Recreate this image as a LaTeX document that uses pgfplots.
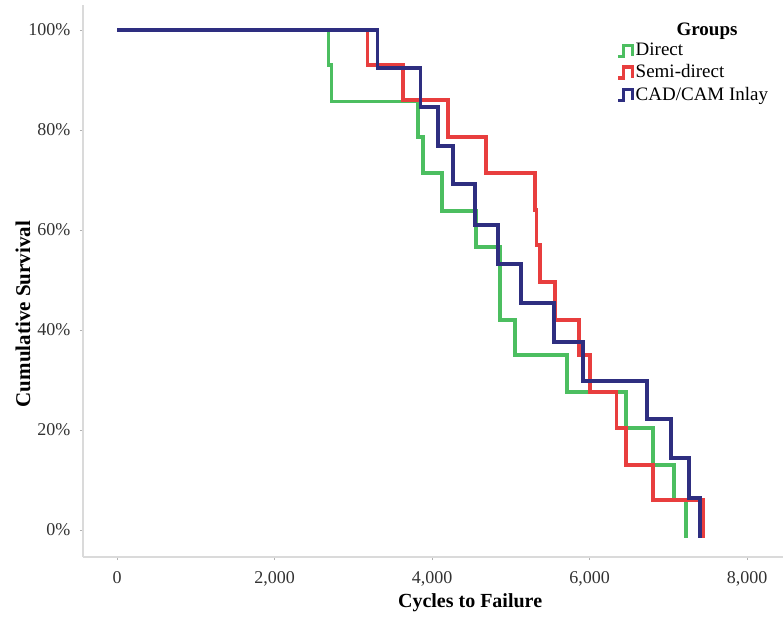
\documentclass[border=0pt]{standalone}
\usepackage{pgfplots}
\pgfplotsset{compat=1.18}
\usepackage{fontspec}
\setmainfont{Liberation Serif}
\definecolor{cgreen}{RGB}{76,190,96}
\definecolor{cred}{RGB}{232,62,62}
\definecolor{cblue}{RGB}{46,46,128}
\definecolor{axgray}{RGB}{218,218,218}
\definecolor{tickgray}{RGB}{50,50,50}
\begin{document}
\begin{tikzpicture}
\path[use as bounding box] (-83pt,-59pt) rectangle (700pt,557pt);
\begin{axis}[
  scale only axis, width=700pt, height=552pt,
  at={(0pt,0pt)}, anchor=south west,
  xmin=-432, xmax=8457, ymin=-5.4, ymax=105,
  axis lines*=left,
  axis line style={-, draw=axgray, line width=1.3pt},
  tick align=outside, major tick length=3pt,
  tick style={draw=gray!60, line width=0.8pt},
  xtick={0,2000,4000,6000,8000},
  ytick={0,20,40,60,80,100},
  yticklabel={\pgfmathprintnumber{\tick}\%},
  /pgf/number format/assume math mode=true,
  /pgf/number format/1000 sep={,},
  ticklabel style={font=\fontsize{18}{20}\selectfont, text=tickgray},
  yticklabel style={xshift=-6pt},
  xticklabel style={yshift=-8pt},
  xlabel={Cycles to Failure},
  ylabel={Cumulative Survival},
  xlabel style={at={(axis description cs:0.553,-0.0833)}, anchor=center, font=\fontsize{20}{22}\selectfont\bfseries},
  ylabel style={at={(axis description cs:-0.0857,0.44)}, anchor=center, font=\fontsize{21}{23}\selectfont\bfseries},
  clip=false,
  legend style={at={(0.762,0.935)}, anchor=north west, draw=none, fill=none,
    font=\fontsize{19}{21}\selectfont, row sep=3.5pt, inner sep=0pt, cells={anchor=west}},
  legend cell align=left,
  legend image code/.code={\draw[#1] (0pt,-6pt) -- (5pt,-6pt) -- (5pt,5pt) -- (14pt,5pt) -- (14pt,-6pt);},
  every axis plot/.append style={line width=3.1pt, line join=miter},
]
% Direct
\addplot[cgreen] coordinates {
(0,100) (2690,100) (2690,93) (2720,93) (2720,85.7)
(3822,85.7) (3822,78.6) (3886,78.6) (3886,71.4)
(4127,71.4) (4127,63.8) (4559,63.8) (4559,56.6)
(4863,56.6) (4863,42) (5054,42) (5054,35)
(5714,35) (5714,27.6) (6463,27.6) (6463,20.4)
(6806,20.4) (6806,13) (7073,13) (7073,6)
(7225,6) (7225,-1.6)
};
\addlegendentry{Direct}
% Semi-direct
\addplot[cred] coordinates {
(0,100) (3175,100) (3175,93) (3632,93) (3632,86)
(4203,86) (4203,78.6) (4686,78.6) (4686,71.4)
(5308,71.4) (5308,64) (5330,64) (5330,57) (5371,57) (5371,49.6)
(5562,49.6) (5562,42) (5867,42) (5867,35)
(6006,35) (6006,27.6) (6337,27.6) (6337,20.4)
(6463,20.4) (6463,13) (6806,13) (6806,6)
(7441,6) (7441,-1.6)
};
\addlegendentry{Semi-direct}
% CAD/CAM Inlay
\addplot[cblue] coordinates {
(0,100) (3302,100) (3302,92.4) (3848,92.4) (3848,84.6)
(4076,84.6) (4076,76.8) (4267,76.8) (4267,69.2)
(4546,69.2) (4546,61) (4838,61) (4838,53.2)
(5130,53.2) (5130,45.4) (5549,45.4) (5549,37.6)
(5917,37.6) (5917,29.8) (6730,29.8) (6730,22.2)
(7035,22.2) (7035,14.4) (7263,14.4) (7263,6.4)
(7403,6.4) (7403,-1.6)
};
\addlegendentry{CAD/CAM Inlay}
\end{axis}
\node[font=\fontsize{19}{21}\selectfont\bfseries] at (624pt,526pt) {Groups};
\end{tikzpicture}
\end{document}
